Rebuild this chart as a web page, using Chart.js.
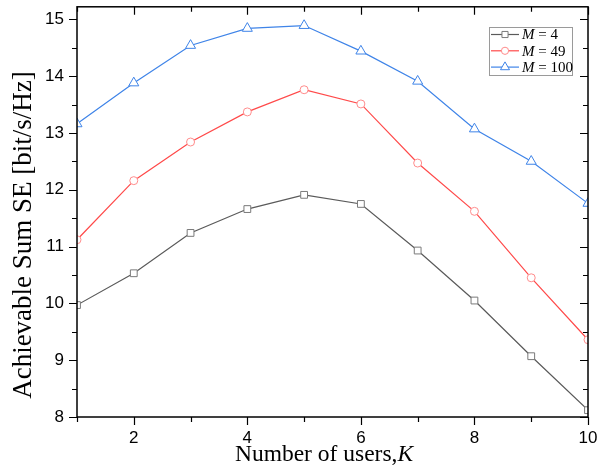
<!DOCTYPE html>
<html>
<head>
<meta charset="utf-8">
<script src="https://cdn.jsdelivr.net/npm/chart.js@4.4.0/dist/chart.umd.min.js"></script>
<style>
  html, body { margin: 0; padding: 0; background: #fff; }
  #wrap { width: 600px; height: 472px; position: relative; }
</style>
</head>
<body>
<div id="wrap"><canvas id="chart"></canvas></div>
<script>
// --- Data ---
const usersK = [1, 2, 3, 4, 5, 6, 7, 8, 9, 10];
const seM4 = [9.97, 10.53, 11.24, 11.66, 11.91, 11.75, 10.93, 10.05, 9.07, 8.12];
const seM49 = [11.12, 12.16, 12.84, 13.37, 13.76, 13.51, 12.47, 11.62, 10.45, 9.36];
const seM100 = [13.16, 13.88, 14.54, 14.84, 14.89, 14.44, 13.91, 13.07, 12.50, 11.76];

const seriesValues = ['4', '49', '100'];
const xMajorTicks = [2, 4, 6, 8, 10];
const xMinorTicks = [1, 3, 5, 7, 9];
const yMajorTicks = [8, 9, 10, 11, 12, 13, 14, 15];
const yMinorTicks = [8.5, 9.5, 10.5, 11.5, 12.5, 13.5, 14.5];

const SERIF = '"Liberation Serif", "Times New Roman", serif';
const SANS = '"Liberation Sans", Arial, sans-serif';

function makeSet(values, idx, line, marker, style, radius) {
    return {
        label: 'M = ' + seriesValues[idx],
        data: usersK.map((k, i) => ({ x: k, y: values[i] })),
        borderColor: line,
        borderWidth: 1.2,
        pointStyle: style,
        pointRadius: radius,
        pointBorderColor: marker,
        pointBackgroundColor: '#ffffff',
        pointBorderWidth: 1,
        tension: 0
    };
}

const datasets = [
    makeSet(seM4, 0, '#5a5a5a', '#7a7a7a', 'rect', 4.8),
    makeSet(seM49, 1, '#ff4a4a', '#ff8c8c', 'circle', 4),
    makeSet(seM100, 2, '#3f84e8', '#3f84e8', 'triangle', 5.8)
];

// --- Frame, ticks, titles and legend ---
const framePlugin = {
    id: 'frame',
    afterDraw(chart) {
        const ctx = chart.ctx;
        const a = chart.chartArea;
        const xs = chart.scales.x, ys = chart.scales.y;
        ctx.save();
        ctx.strokeStyle = '#000';
        ctx.lineWidth = 1.5;
        ctx.strokeRect(a.left, a.top, a.right - a.left, a.bottom - a.top);

        ctx.lineWidth = 1.2;
        ctx.beginPath();
        const xTick = (v, len) => {
            const px = Math.round(xs.getPixelForValue(v)) + 0.5;
            ctx.moveTo(px, a.bottom); ctx.lineTo(px, a.bottom + len);
            ctx.moveTo(px, a.top); ctx.lineTo(px, a.top + len);
        };
        const yTick = (v, len) => {
            const py = Math.round(ys.getPixelForValue(v)) + 0.5;
            ctx.moveTo(a.left, py); ctx.lineTo(a.left - len, py);
            ctx.moveTo(a.right, py); ctx.lineTo(a.right - len, py);
        };
        xMajorTicks.forEach(v => xTick(v, 8));
        xMinorTicks.forEach(v => xTick(v, 5));
        yMajorTicks.forEach(v => yTick(v, 8));
        yMinorTicks.forEach(v => yTick(v, 5));
        ctx.stroke();

        // axis titles
        ctx.fillStyle = '#000';
        ctx.textBaseline = 'alphabetic';
        const xt1 = 'Number of users,';
        ctx.font = 'italic 23.5px ' + SERIF;
        const wK = ctx.measureText('K').width;
        ctx.font = '23.5px ' + SERIF;
        const w1 = ctx.measureText(xt1).width;
        let sx = 324 - (w1 + wK) / 2;
        ctx.textAlign = 'left';
        ctx.fillText(xt1, sx, 461);
        ctx.font = 'italic 23.5px ' + SERIF;
        ctx.fillText('K', sx + w1, 461);

        ctx.save();
        ctx.translate(31, 235);
        ctx.rotate(-Math.PI / 2);
        ctx.font = '27px ' + SERIF;
        ctx.textAlign = 'center';
        ctx.fillText('Achievable Sum SE [bit/s/Hz]', 0, 0);
        ctx.restore();

        // legend box
        const lx = 489, ly = 27, lw = 83, lh = 48;
        ctx.fillStyle = '#fff';
        ctx.fillRect(lx, ly, lw, lh);
        ctx.strokeStyle = '#9a9a9a';
        ctx.lineWidth = 1;
        ctx.strokeRect(lx + 0.5, ly + 0.5, lw, lh);
        chart.data.datasets.forEach((ds, i) => {
            const y = ly + 7.5 + i * 16.3;
            ctx.strokeStyle = ds.borderColor;
            ctx.lineWidth = 1.2;
            ctx.beginPath();
            ctx.moveTo(lx + 2, y); ctx.lineTo(lx + 30, y);
            ctx.stroke();
            ctx.fillStyle = '#fff';
            ctx.strokeStyle = ds.pointBorderColor;
            ctx.lineWidth = 1;
            Chart.helpers.drawPoint(ctx, {
                pointStyle: ds.pointStyle, radius: ds.pointRadius * 0.9,
                rotation: 0, borderWidth: 1
            }, lx + 16, y);
            ctx.fillStyle = '#000';
            ctx.textAlign = 'left';
            ctx.textBaseline = 'middle';
            ctx.font = 'italic 15px ' + SERIF;
            ctx.fillText('M', lx + 33, y + 1);
            const wm = ctx.measureText('M').width;
            ctx.font = '15px ' + SERIF;
            ctx.fillText(' = ' + seriesValues[i], lx + 33 + wm, y + 1);
        });
        ctx.restore();
    }
};

new Chart(document.getElementById('chart'), {
    type: 'line',
    data: { datasets },
    options: {
        responsive: true,
        maintainAspectRatio: false,
        animation: false,
        layout: { padding: { left: 0, top: 4, right: 12, bottom: 0 } },
        plugins: { legend: { display: false }, tooltip: { enabled: false } },
        scales: {
            x: {
                type: 'linear',
                min: 1,
                max: 10,
                afterBuildTicks: s => { s.ticks = xMajorTicks.map(v => ({ value: v })); },
                afterFit: s => { s.height = 55; s.paddingLeft = 0; s.paddingRight = 0; },
                grid: { drawOnChartArea: false, tickLength: 8, tickColor: 'transparent', color: 'transparent' },
                border: { display: false },
                ticks: { color: '#000', font: { family: SANS, size: 17 }, padding: 3, maxRotation: 0 }
            },
            y: {
                min: 8,
                max: 15.22,
                afterBuildTicks: s => { s.ticks = yMajorTicks.map(v => ({ value: v })); },
                afterFit: s => { s.width = 77; s.paddingTop = 0; s.paddingBottom = 0; },
                grid: { drawOnChartArea: false, tickLength: 8, tickColor: 'transparent', color: 'transparent' },
                border: { display: false },
                ticks: { color: '#000', font: { family: SANS, size: 17 }, padding: 5 }
            }
        }
    },
    plugins: [framePlugin]
});
</script>
</body>
</html>
